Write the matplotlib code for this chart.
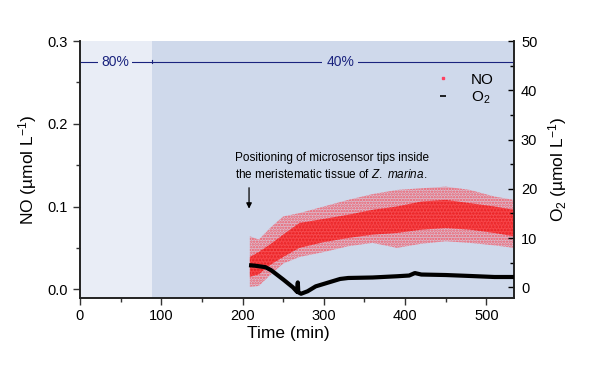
import numpy as np
import matplotlib
matplotlib.use("Agg")
from matplotlib import pyplot as plt
from matplotlib.lines import Line2D

plt.rcParams['font.family'] = ['Liberation Sans', 'DejaVu Sans']
plt.rcParams['mathtext.fontset'] = 'custom'
plt.rcParams['mathtext.rm'] = 'Liberation Sans'
plt.rcParams['mathtext.it'] = 'Liberation Sans:italic'
plt.rcParams['hatch.linewidth'] = 1.2

# NO cloud: outer (sparse) and inner (dense) limits
no_time = [209, 220, 235, 250, 270, 300, 330, 360, 390, 420, 450, 480, 510, 534]
no_outer_lo = [0.003, 0.004, 0.018, 0.031, 0.039, 0.045, 0.052, 0.056, 0.050, 0.055, 0.058, 0.056, 0.053, 0.050]
no_inner_lo = [0.015, 0.018, 0.030, 0.039, 0.050, 0.057, 0.062, 0.066, 0.068, 0.072, 0.074, 0.072, 0.068, 0.064]
no_inner_hi = [0.039, 0.045, 0.055, 0.066, 0.080, 0.085, 0.090, 0.096, 0.100, 0.106, 0.108, 0.104, 0.100, 0.096]
no_outer_hi = [0.064, 0.060, 0.075, 0.088, 0.092, 0.100, 0.108, 0.115, 0.120, 0.122, 0.124, 0.120, 0.112, 0.108]

# O2 trace
o2_time = [208, 215, 228, 235, 250, 262, 267, 268, 268.6, 272, 280, 290, 300, 310, 320, 330,
           360, 390, 405, 412, 420, 450, 481, 510, 534]
o2_val = [4.5, 4.4, 4.1, 3.5, 1.6, 0.0, -0.9, 1.0, -1.0, -1.3, -0.8, 0.2, 0.7, 1.2, 1.7, 1.9,
          2.0, 2.25, 2.4, 2.9, 2.6, 2.5, 2.3, 2.1, 2.1]

light_bg = '#e9edf6'
dark_bg = '#cfd9eb'
navy = '#1a237e'

fig = plt.figure(figsize=(6, 3.8), dpi=100)
ax = fig.add_axes([0.1333, 0.2166, 0.7234, 0.6755])
ax2 = ax.twinx()

ax.axvspan(0, 88, color=light_bg, lw=0, zorder=0)
ax.axvspan(88, 534, color=dark_bg, lw=0, zorder=0)

# sparse outer dots, then dense core
ax.fill_between(no_time, no_outer_lo, no_outer_hi, facecolor=(1, 0.35, 0.4, 0.22),
                edgecolor=(1, 0.1, 0.15, 0.6), hatch='......', lw=0, zorder=2)
ax.fill_between(no_time, no_inner_lo, no_inner_hi, facecolor=(1, 0.15, 0.15, 0.72),
                edgecolor=(0.85, 0.0, 0.0, 0.5), hatch='.....', lw=0, zorder=3)

ax.axhline(0.275, color=navy, lw=0.8, zorder=4)
ax.plot([88, 88], [0.273, 0.277], color=navy, lw=0.8, zorder=4)
ax.text(43, 0.275, '80%', color=navy, fontsize=10, ha='center', va='center', zorder=5,
        bbox=dict(facecolor=light_bg, edgecolor='none', pad=2))
ax.text(320, 0.275, '40%', color=navy, fontsize=10, ha='center', va='center', zorder=5,
        bbox=dict(facecolor=dark_bg, edgecolor='none', pad=3))

ax.text(191, 0.131, 'Positioning of microsensor tips inside\nthe meristematic tissue of $\\mathit{Z.\\ marina}$.',
        fontsize=8.5, ha='left', va='bottom', linespacing=1.35, zorder=5)
ax.annotate('', xy=(208, 0.094), xytext=(208, 0.126),
            arrowprops=dict(arrowstyle='-|>', color='black', lw=0.9, mutation_scale=8), zorder=5)

ax2.plot(o2_time, o2_val, color='black', lw=3, solid_capstyle='butt', zorder=6)

ax.set_xlim(0, 534)
ax.set_ylim(-0.0102, 0.3)
ax2.set_ylim(-2.1, 50)
ax.set_xticks([0, 100, 200, 300, 400, 500])
ax.set_xticks(range(50, 534, 100), minor=True)
ax.set_yticks([0.0, 0.1, 0.2, 0.3])
ax.set_yticklabels(['0.0', '0.1', '0.2', '0.3'])
ax.set_yticks([0.05, 0.15, 0.25], minor=True)
ax2.set_yticks([0, 10, 20, 30, 40, 50])
ax2.set_yticks([5, 15, 25, 35, 45], minor=True)

ax.tick_params(axis='both', which='major', labelsize=10.5, length=5, width=1, color='#333333')
ax.tick_params(axis='both', which='minor', length=3, width=1, color='#333333')
ax2.tick_params(axis='y', which='major', direction='in', labelsize=10.5, length=4, width=1, pad=5)
ax2.tick_params(axis='y', which='minor', direction='in', length=3, width=1)

for a in (ax, ax2):
    a.spines['top'].set_visible(False)
    for s in ('left', 'bottom', 'right'):
        a.spines[s].set_linewidth(1.2)
        a.spines[s].set_color('#222222')

ax.set_xlabel('Time (min)', fontsize=12.5, x=0.48, labelpad=2)
ax.set_ylabel('NO (µmol L$^{-1}$)', fontsize=12.5, labelpad=6)
ax2.set_ylabel('O$_2$ (µmol L$^{-1}$)', fontsize=12.5, labelpad=6)

handles = [Line2D([], [], ls='none', marker='s', markersize=2, color='#ff4060'),
           Line2D([], [], ls='none', marker='_', markersize=4, markeredgewidth=1.2, color='black')]
ax2.legend(handles, ['NO', 'O$_2$'], loc='upper right', bbox_to_anchor=(0.985, 0.93),
           frameon=False, fontsize=11, handlelength=1.2, handletextpad=1.2,
           labelspacing=0.2)

fig.savefig('out.png', dpi=100)
